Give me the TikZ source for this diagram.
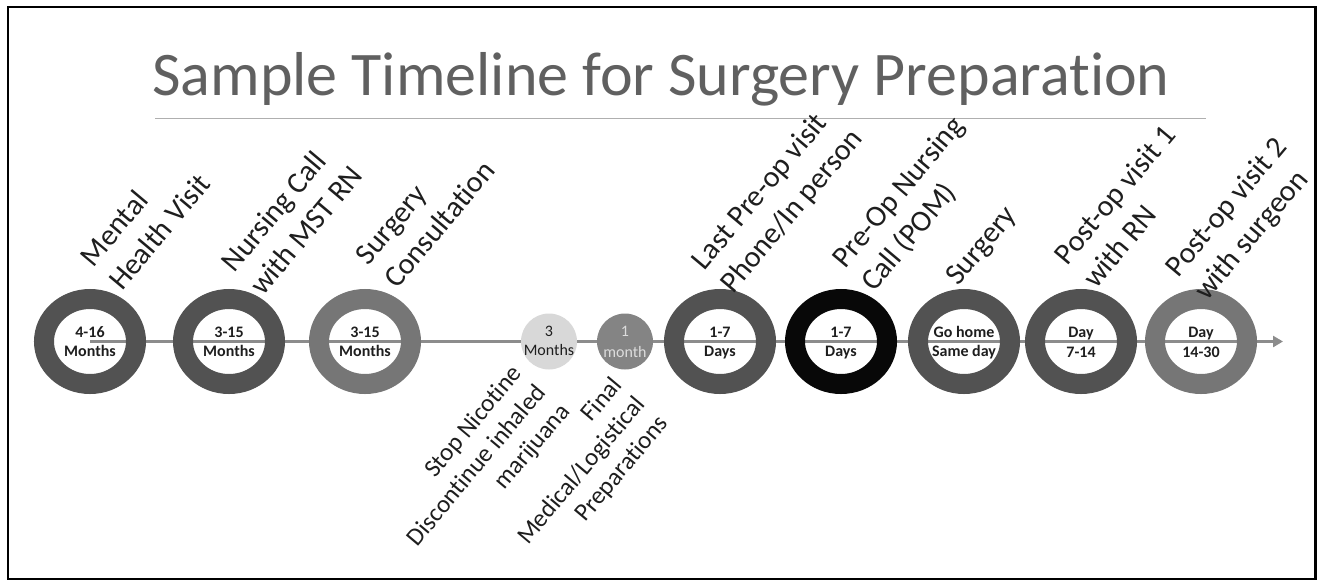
\documentclass[tikz,border=0pt]{standalone}
\usepackage{fontspec}
\setmainfont{Carlito}[Ligatures=NoCommon]
\usetikzlibrary{arrows.meta,shapes.geometric}
\definecolor{ringdark}{RGB}{82,82,82}
\definecolor{ringmid}{RGB}{118,118,118}
\definecolor{ringblack}{RGB}{8,8,8}
\definecolor{tlgray}{RGB}{140,140,140}
\definecolor{dotlight}{RGB}{216,216,216}
\definecolor{dotmid}{RGB}{132,132,132}
\definecolor{titlegray}{RGB}{96,96,96}
\definecolor{rulegray}{RGB}{175,175,175}
\definecolor{txt}{RGB}{30,30,30}
\pgfdeclarelayer{bg}
\pgfsetlayers{bg,main}
\begin{document}
\begin{tikzpicture}[x=1pt,y=-1pt,
  ring/.style={ellipse, draw=#1, line width=20pt, minimum width=92pt, minimum height=85pt, inner sep=0pt},
  dotnode/.style={circle, fill=#1, minimum size=56pt, inner sep=0pt},
  inlab/.style={anchor=base, inner sep=0pt, font=\fontsize{16}{18}\selectfont\bfseries, text=txt},
  dotlab/.style={anchor=base, inner sep=0pt, font=\fontsize{16}{18}\selectfont, text=#1},
  evt/.style={rotate=50, anchor=base west, inner sep=0pt, font=\fontsize{30}{36}\selectfont, text=txt},
  note/.style={rotate=50, anchor=base east, inner sep=0pt, font=\fontsize{25}{30}\selectfont, text=txt},
  tl/.style={draw=tlgray, line width=3.6pt}
]
\useasboundingbox (0,0) rectangle (1317,581);
\draw[line width=2.5pt, black] (8,7) rectangle (1315.5,579);

% title
\node[anchor=base, inner sep=0pt, font=\fontsize{62}{70}\selectfont, text=titlegray] (title) at (661,95) {Sample Timeline for Surgery Preparation};
\coordinate (ruleL) at (155,118);
\coordinate (ruleR) at (1206,118);
\draw[rulegray, line width=1pt] (ruleL) -- (ruleR);

% milestones
\node[ring=ringdark] (n1) at (90,341.5) {};
\node[ring=ringdark] (n2) at (229,341.5) {};
\node[ring=ringmid] (n3) at (365,341.5) {};
\node[dotnode=dotlight] (d1) at (549,341.5) {};
\node[dotnode=dotmid] (d2) at (625,341.5) {};
\node[ring=ringdark] (n4) at (720,341.5) {};
\node[ring=ringblack] (n5) at (841,341.5) {};
\node[ring=ringdark] (n6) at (964,341.5) {};
\node[ring=ringdark] (n7) at (1081,341.5) {};
\node[ring=ringmid] (n8) at (1201,341.5) {};
\coordinate (tip) at (1283,341.5);

\begin{pgfonlayer}{bg}
\draw[tl] (n1.center) -- (n2.center) -- (n3.center) -- (d1.center) -- (d2.center) -- (n4.center) -- (n5.center) -- (n6.center) -- (n7.center) -- (n8.center);
\draw[tl, -{Triangle[length=10pt,width=11pt]}] (n8.center) -- (tip);
\end{pgfonlayer}

% inner labels
\node[inlab] (t1a) at (90,337) {4-16};
\node[inlab] (t1b) at (90,356) {Months};
\node[inlab] (t2a) at (229,337) {3-15};
\node[inlab] (t2b) at (229,356) {Months};
\node[inlab] (t3a) at (365,337) {3-15};
\node[inlab] (t3b) at (365,356) {Months};
\node[dotlab=txt] (t4a) at (549,336) {3};
\node[dotlab=txt] (t4b) at (549,355) {Months};
\node[dotlab={dotlight!90!white}] (t5a) at (625,336) {1};
\node[dotlab={dotlight!90!white}] (t5b) at (625,357) {month};
\node[inlab] (t6a) at (720,337) {1-7};
\node[inlab] (t6b) at (720,356) {Days};
\node[inlab] (t7a) at (841,337) {1-7};
\node[inlab] (t7b) at (841,356) {Days};
\node[inlab] (t8a) at (964,337) {Go home};
\node[inlab] (t8b) at (964,356) {Same day};
\node[inlab] (t9a) at (1081,337) {Day};
\node[inlab] (t9b) at (1081,357) {7-14};
\node[inlab] (t10a) at (1201,337) {Day};
\node[inlab] (t10b) at (1201,357) {14-30};

% event labels (left aligned, one node per line)
\node[evt] (e1a) at (93.7,268.2) {Mental};
\node[evt] (e1b) at (122,292) {Health Visit};
\node[evt] (e2a) at (234.7,273.2) {Nursing Call};
\node[evt] (e2b) at (263,297) {with MST RN};
\node[evt] (e3a) at (368.7,266.2) {Surgery};
\node[evt] (e3b) at (397,290) {Consultation};
\node[evt] (e4a) at (704.7,271.2) {Last Pre-op visit};
\node[evt] (e4b) at (733,295) {Phone/In person};
\node[evt] (e5a) at (845.7,269.2) {Pre-Op Nursing};
\node[evt] (e5b) at (874,293) {Call (POM)};
\node[evt] (e6a) at (958,287) {Surgery};
\node[evt] (e7a) at (1067.7,266.2) {Post-op visit 1};
\node[evt] (e7b) at (1096,290) {with RN};
\node[evt] (e8a) at (1178.7,278.2) {Post-op visit 2};
\node[evt] (e8b) at (1207,302) {with surgeon};

% preparation notes (right aligned, one node per line)
\node[note] (p1a) at (523,374) {Stop Nicotine};
\node[note] (p1b) at (547,393) {Discontinue inhaled};
\node[note] (p1c) at (571,412) {marijuana};
\node[note] (p2a) at (623,386) {Final};
\node[note] (p2b) at (646,405) {Medical/Logistical};
\node[note] (p2c) at (669,424) {Preparations};
\end{tikzpicture}
\end{document}
